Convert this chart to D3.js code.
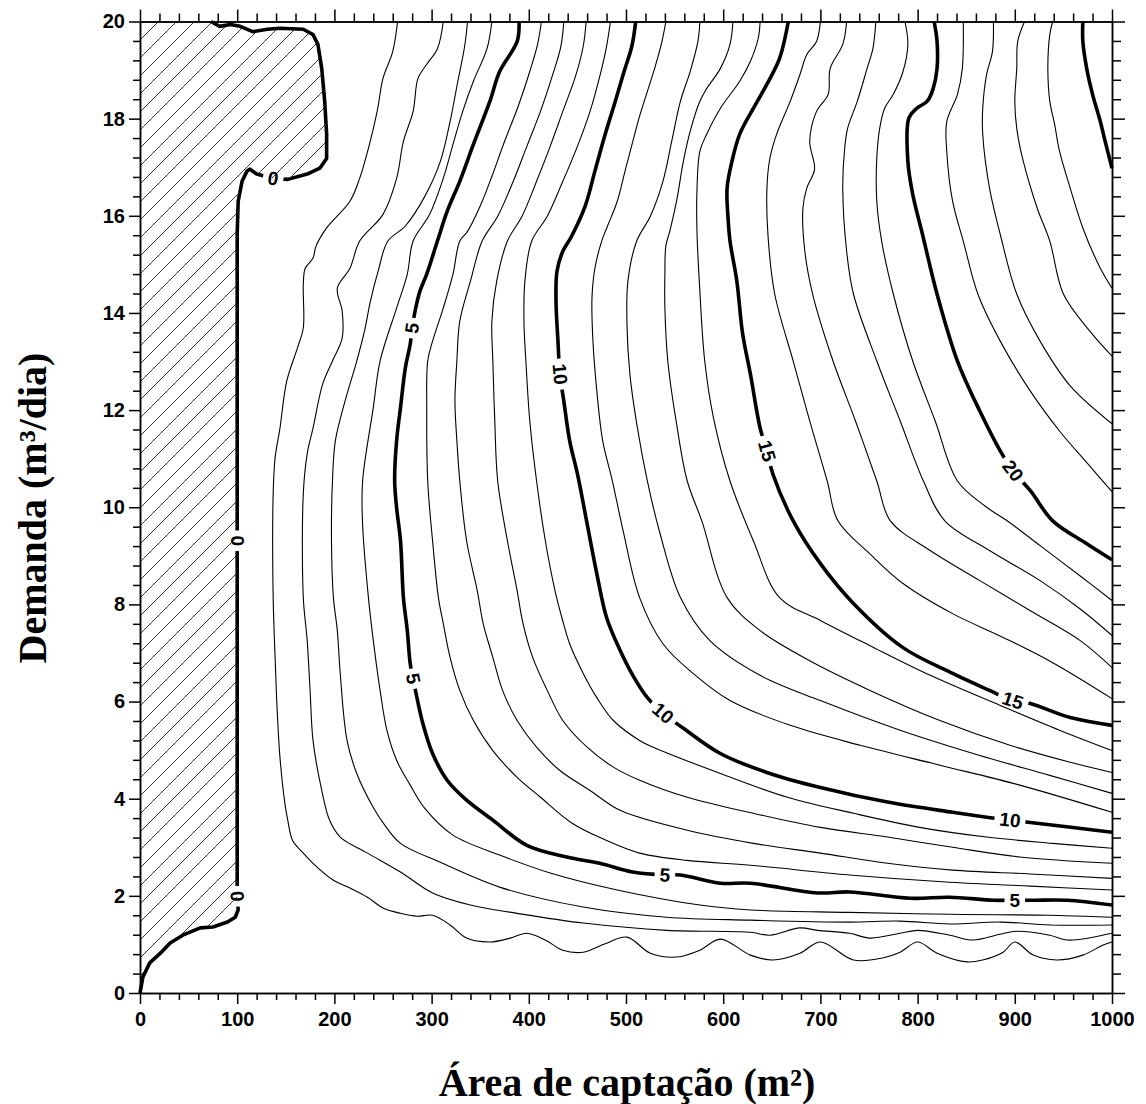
<!DOCTYPE html>
<html><head><meta charset="utf-8">
<script src="https://cdn.jsdelivr.net/npm/d3@7"></script>
<style>body{margin:0;background:#fff}svg{display:block}</style>
</head><body><svg id="chart" width="1146" height="1104"></svg>
<script>
// ---------- data (x = Área de captação m², y = Demanda m³/dia) ----------
const xTickValues = [0,100,200,300,400,500,600,700,800,900,1000];
const yTickValues = [0,2,4,6,8,10,12,14,16,18,20];
const contourLevels = [0,1,2,3,4,5,6,7,8,9,10,11,12,13,14,15,16,17,18,19,20,21,22,23,24,25];

const contour0 = [[73,20],[82,19.90],[93,19.94],[103,19.90],[116,19.79],[131,19.84],[144,19.86],[168,19.84],[178,19.73],[183,19.53],[187,19.03],[190,18.36],[192,17.68],[192,17.18],[185,16.98],[172,16.86],[152,16.75],[137,16.77],[120,16.86],[113,16.96],[110,16.92],[105,16.71],[101,16.30],[100,15.62],[100,9.31],[100,2.28],[100,1.99],[101,1.71],[98,1.56],[90,1.46],[75,1.36],[62,1.34],[44,1.19],[31,1.03],[21,0.82],[10,0.62],[3,0.33],[0,0]];
const contour1 = [[265,20],[260,19.38],[250,18.83],[244,18.15],[235,17.39],[226,16.77],[216,16.30],[192,15.75],[181,15.37],[178,15.13],[170,14.92],[168,14.59],[168,13.69],[162,13.28],[151,12.60],[144,11.63],[139,11.02],[137,10.28],[137,8.14],[139,6.91],[141,5.88],[144,4.85],[149,3.91],[152,3.56],[157,3.14],[168,2.88],[178,2.67],[199,2.32],[216,2.16],[234,1.97],[250,1.75],[268,1.64],[285,1.58],[301,1.60],[319,1.40],[336,1.13],[360,1.05],[381,1.13],[398,1.23],[417,1.09],[435,0.88],[456,0.84],[478,1.01],[501,1.15],[525,0.82],[552,0.74],[576,0.88],[597,1.11],[628,0.78],[651,0.68],[679,0.82],[700,1.05],[734,0.68],[764,0.72],[782,0.84],[800,1.05],[820,0.82],[851,0.64],[867,0.68],[888,0.84],[900,1.05],[919,0.78],[943,0.68],[970,0.78],[991,0.99],[1000,1.05]];
const contour2 = [[312,20],[306,19.44],[295,19.12],[286,18.83],[281,18.15],[271,17.53],[264,16.77],[250,16.03],[226,15.48],[216,14.92],[203,14.51],[208,14.04],[208,13.48],[198,13.01],[188,12.54],[178,11.63],[172,11.10],[168,10.28],[168,8.14],[172,7.26],[175,6.23],[178,5.20],[187,4.17],[195,3.56],[206,3.21],[234,2.88],[268,2.49],[301,2.06],[340,1.81],[388,1.64],[456,1.44],[542,1.29],[628,1.25],[648,1.19],[679,1.34],[697,1.29],[730,1.23],[751,1.13],[782,1.23],[800,1.29],[833,1.19],[857,1.09],[885,1.21],[902,1.27],[936,1.19],[954,1.09],[1000,1.23]];
const contour3 = [[337,20],[334,19.49],[327,18.77],[319,17.94],[309,17.12],[293,16.40],[273,15.79],[255,15.48],[245,14.86],[237,14.24],[231,13.63],[223,13.01],[211,12.19],[201,11.37],[198,10.54],[197,9.31],[199,8.14],[203,7.46],[206,6.58],[213,5.20],[223,4.52],[240,3.82],[252,3.45],[268,3.08],[309,2.69],[370,2.18],[456,1.77],[542,1.56],[628,1.50],[730,1.46],[782,1.48],[833,1.42],[885,1.46],[936,1.40],[1000,1.40]];
const contour4 = [[362,20],[357,19.44],[343,18.77],[332,18.15],[322,17.47],[312,16.77],[298,16.03],[281,15.48],[275,14.80],[264,14.10],[247,13.01],[240,12.05],[229,10.54],[229,9.66],[235,8.14],[240,7.26],[247,6.23],[254,5.41],[264,4.79],[278,4.28],[293,3.80],[322,3.25],[370,2.84],[422,2.47],[491,2.12],[576,1.81],[628,1.71],[730,1.66],[833,1.62],[936,1.60],[1000,1.56]];
const contour5 = [[390,20],[388,19.59],[370,18.97],[360,18.36],[343,17.47],[329,16.71],[316,16.09],[306,15.48],[295,14.80],[288,14.45],[283,14.04],[280,13.69],[278,13.36],[273,12.87],[268,12.05],[264,11.37],[262,10.54],[264,9.99],[268,9.31],[271,8.14],[275,7.46],[278,6.78],[281,6.47],[284,6.17],[291,5.55],[301,4.93],[316,4.38],[336,3.97],[363,3.56],[398,3.04],[439,2.80],[473,2.67],[507,2.49],[540,2.43],[556,2.43],[597,2.26],[628,2.26],[697,2.06],[730,2.08],[792,1.95],[833,1.97],[878,1.91],[900,1.91],[919,1.91],[954,1.91],[1000,1.81]];
const contour6 = [[413,20],[409,19.53],[401,18.97],[389,18.25],[375,17.53],[362,16.81],[350,16.20],[337,15.68],[329,15.48],[322,14.80],[312,14.10],[301,13.42],[296,13.01],[295,12.05],[296,10.54],[301,9.31],[307,8.14],[312,7.61],[319,6.91],[329,6.23],[343,5.61],[363,4.99],[388,4.44],[412,4.03],[445,3.49],[480,3.14],[514,2.88],[563,2.73],[628,2.63],[730,2.43],[833,2.28],[916,2.20],[1000,2.12]];
const contour7 = [[436,20],[433,19.49],[424,18.87],[412,18.15],[398,17.43],[384,16.71],[368,15.99],[352,15.48],[340,14.66],[329,13.83],[326,13.01],[324,12.19],[326,11.37],[329,10.54],[336,9.31],[347,8.28],[353,7.61],[363,6.91],[373,6.23],[388,5.61],[408,5.06],[432,4.58],[463,4.17],[494,3.76],[563,3.35],[631,3.08],[700,2.88],[769,2.67],[836,2.53],[916,2.45],[1000,2.36]];
const contour8 = [[459,20],[456,19.49],[448,18.87],[435,18.15],[422,17.43],[408,16.71],[393,15.99],[378,15.48],[367,14.66],[362,13.83],[363,13.01],[365,11.78],[368,10.54],[378,9.31],[388,8.28],[394,7.61],[404,6.91],[419,6.23],[435,5.61],[460,5.06],[487,4.65],[514,4.38],[563,4.03],[631,3.70],[700,3.41],[769,3.21],[836,3.00],[905,2.80],[1000,2.67]];
const contour9 = [[484,20],[480,19.49],[473,18.87],[463,18.15],[450,17.43],[435,16.71],[419,15.99],[403,15.48],[396,14.66],[395,13.83],[397,13.01],[401,11.78],[408,10.54],[417,9.31],[427,8.28],[434,7.73],[442,7.19],[456,6.58],[470,6.08],[487,5.61],[514,5.20],[528,5.06],[597,4.52],[666,4.03],[734,3.70],[802,3.41],[871,3.21],[939,3.08],[1000,2.98]];
const contour10 = [[510,20],[506,19.49],[498,18.97],[489,18.36],[478,17.64],[468,16.92],[458,16.20],[444,15.58],[435,15.27],[429,14.86],[428,14.24],[430,13.42],[432,12.74],[436,12.19],[442,11.37],[450,10.69],[460,9.66],[470,8.63],[480,7.73],[494,7.05],[507,6.54],[522,6.08],[538,5.76],[559,5.45],[597,4.93],[648,4.52],[700,4.23],[769,3.93],[836,3.72],[871,3.62],[895,3.56],[916,3.51],[1000,3.31]];
const contour11 = [[541,20],[537,19.59],[530,19.07],[522,18.56],[514,18.05],[507,17.53],[499,16.92],[491,16.30],[481,15.79],[475,15.48],[468,14.92],[465,14.31],[466,13.42],[470,12.39],[476,11.37],[486,10.54],[497,9.52],[514,8.14],[538,7.19],[569,6.58],[607,6.02],[669,5.51],[741,5.10],[823,4.69],[905,4.28],[1000,3.72]];
const contour12 = [[576,20],[574,19.59],[566,18.97],[556,18.36],[547,17.53],[538,16.71],[525,15.99],[511,15.48],[502,14.66],[501,13.77],[504,12.74],[511,11.72],[522,10.54],[535,9.46],[556,8.14],[586,7.26],[638,6.54],[700,6.02],[782,5.41],[864,4.89],[936,4.48],[1000,4.11]];
const contour13 = [[610,20],[607,19.53],[597,19.03],[583,18.62],[576,18.36],[566,17.74],[559,17.12],[552,16.30],[545,15.68],[541,15.38],[540,14.80],[540,14.10],[543,13.01],[552,11.72],[563,10.54],[578,9.72],[604,8.14],[638,7.46],[689,6.84],[751,6.23],[823,5.61],[895,5.10],[957,4.75],[1000,4.54]];
const contour14 = [[638,20],[636,19.65],[628,19.18],[617,18.77],[597,18.21],[583,17.68],[576,17.33],[573,16.51],[573,15.68],[576,14.45],[581,13.01],[590,11.84],[607,10.54],[631,9.31],[658,8.14],[700,7.67],[751,7.15],[813,6.54],[885,5.92],[946,5.41],[1000,4.99]];
const contour15 = [[667,20],[658,19.24],[645,18.71],[631,18.21],[617,17.68],[609,17.12],[604,16.57],[605,15.95],[607,15.48],[614,14.66],[620,13.57],[628,12.74],[638,11.63],[645,11.16],[651,10.69],[672,9.72],[700,8.84],[734,8.02],[785,7.11],[836,6.58],[874,6.23],[898,6.02],[916,5.96],[957,5.67],[1000,5.51]];
const contour16 = [[700,20],[696,19.59],[686,19.32],[679,18.91],[669,18.36],[655,17.68],[648,17.18],[645,16.57],[646,15.62],[653,14.39],[672,13.01],[689,11.78],[707,10.54],[718,9.72],[751,9.04],[785,8.43],[836,7.81],[888,7.32],[939,6.80],[1000,6.06]];
const contour17 = [[727,20],[723,19.53],[710,19.03],[708,18.50],[696,18.15],[689,17.53],[694,16.96],[686,16.57],[682,16.16],[684,15.27],[692,14.39],[713,13.01],[736,11.78],[758,10.54],[772,9.72],[813,9.11],[864,8.49],[916,7.87],[967,7.26],[1000,6.70]];
const contour18 = [[757,20],[754,19.44],[748,19.03],[738,18.36],[728,17.80],[725,17.39],[723,16.57],[727,15.27],[734,14.39],[758,13.01],[782,11.78],[806,10.54],[828,9.72],[874,9.11],[926,8.49],[967,7.91],[1000,7.36]];
const contour19 = [[787,20],[790,19.53],[785,18.97],[775,18.50],[766,18.21],[761,17.80],[758,17.18],[758,16.30],[763,15.48],[775,14.39],[795,13.01],[818,11.78],[841,10.54],[869,10.03],[895,9.68],[926,9.21],[967,8.59],[1000,8.08]];
const contour20 = [[817,20],[820,19.59],[820,19.03],[816,18.62],[810,18.36],[799,18.21],[791,18.01],[790,17.12],[795,16.44],[805,15.62],[820,14.39],[841,13.01],[864,11.98],[885,11.16],[898,10.75],[916,10.34],[939,9.72],[974,9.25],[1000,8.92]];
const contour21 = [[847,20],[846,19.03],[841,18.50],[830,17.94],[830,17.33],[836,16.30],[847,15.48],[862,14.39],[885,13.42],[916,12.39],[946,11.57],[977,10.85],[1000,10.32]];
const contour22 = [[878,20],[877,19.38],[871,18.91],[867,18.21],[867,17.68],[874,16.57],[885,15.62],[902,14.39],[926,13.42],[957,12.50],[1000,11.72]];
const contour23 = [[910,20],[903,19.59],[902,19.03],[900,18.36],[902,17.80],[908,17.18],[923,16.16],[936,15.48],[950,14.39],[977,13.63],[1000,13.11]];
const contour24 = [[939,20],[936,19.73],[934,19.03],[936,18.36],[941,17.88],[946,17.33],[957,16.57],[970,15.75],[988,14.92],[1000,14.51]];
const contour25 = [[970,20],[970,19.59],[974,19.03],[980,18.50],[988,17.94],[993,17.53],[1000,16.98]];

// contour labels: [level, x, y]
const contourLabels = [[0,137,16.77],[0,100,9.31],[0,100,1.99],[5,280,13.69],[5,281,6.47],[5,540,2.43],[5,900,1.91],[10,432,12.74],[10,538,5.76],[10,895,3.56],[15,645,11.16],[15,898,6.02],[20,898,10.75]];

const contourLines = [contour0,contour1,contour2,contour3,contour4,contour5,contour6,contour7,contour8,contour9,contour10,contour11,contour12,contour13,contour14,contour15,contour16,contour17,contour18,contour19,contour20,contour21,contour22,contour23,contour24,contour25];
const contours = contourLevels.map((lv,i)=>({level:lv, pts:contourLines[i]}));

// ---------- drawing ----------
const W=1146,H=1104;
const svg=d3.select('#chart');
const x=d3.scaleLinear().domain([0,1000]).range([140,1112]);
const y=d3.scaleLinear().domain([0,20]).range([993,21.5]);

const defs=svg.append('defs');
const pat=defs.append('pattern').attr('id','hatch').attr('patternUnits','userSpaceOnUse')
  .attr('width',18).attr('height',18);
pat.append('path').attr('d','M-3,3 L3,-3 M0,18 L18,0 M15,21 L21,15')
  .attr('stroke','#222').attr('stroke-width',0.9).attr('fill','none');

const smooth=d3.line().x(d=>x(d[0])).y(d=>y(d[1])).curve(d3.curveCatmullRom.alpha(0.5));
const lin=d3.line().x(d=>x(d[0])).y(d=>y(d[1]));

// hatched (blanked) region left of the 0 contour
svg.append('path').attr('d',lin([[0,0],[0,20]].concat(contour0))+'Z')
  .attr('fill','url(#hatch)').attr('stroke','none');

// labels: geometry first
const labelFont="bold 19px 'Liberation Sans', Arial, sans-serif";
const labG=svg.append('g');
const labInfo=contourLabels.map(l=>{
  const c=contours.find(c=>c.level===l[0]);
  const pts=c.pts.map(p=>[x(p[0]),y(p[1])]);
  const px=x(l[1]),py=y(l[2]);
  let best=0,bd=Infinity;
  pts.forEach((p,i)=>{const d=(p[0]-px)**2+(p[1]-py)**2;if(d<bd){bd=d;best=i;}});
  const a=pts[Math.max(0,best-1)],b=pts[Math.min(pts.length-1,best+1)];
  let ang=Math.atan2(b[1]-a[1],b[0]-a[0])*180/Math.PI;
  if(ang>90)ang-=180; if(ang<=-90)ang+=180;
  return {level:l[0],px,py,ang};
});
const texts=labG.selectAll('text').data(labInfo).join('text')
  .attr('transform',d=>`translate(${d.px},${d.py}) rotate(${d.ang})`)
  .attr('text-anchor','middle').attr('dominant-baseline','central')
  .style('font',labelFont).attr('fill','#000').text(d=>d.level);
texts.each(function(d){d.w=this.getComputedTextLength();});

// masks to cut gaps in labelled lines
const labelledLevels=[...new Set(labInfo.map(d=>d.level))];
labelledLevels.forEach(lv=>{
  const m=defs.append('mask').attr('id','m'+lv).attr('maskUnits','userSpaceOnUse')
    .attr('x',0).attr('y',0).attr('width',W).attr('height',H);
  m.append('rect').attr('x',0).attr('y',0).attr('width',W).attr('height',H).attr('fill','#fff');
  labInfo.filter(d=>d.level===lv).forEach(d=>{
    const w=d.w+10,h=18;
    m.append('rect').attr('x',-w/2).attr('y',-h/2).attr('width',w).attr('height',h)
      .attr('transform',`translate(${d.px},${d.py}) rotate(${d.ang})`).attr('fill','#000');
  });
});

const linesG=svg.insert('g','g');
contours.forEach(c=>{
  const thick=c.level%5===0;
  const p=linesG.append('path')
    .attr('d', c.level===0 ? lin(c.pts) : smooth(c.pts))
    .attr('fill','none').attr('stroke','#000')
    .attr('stroke-width',thick?3.6:1.1)
    .attr('stroke-linejoin','round').attr('stroke-linecap','butt');
  if(labelledLevels.includes(c.level)) p.attr('mask',`url(#m${c.level})`);
});

// ---------- axes ----------
const xMinor=d3.range(0,1001,20).filter(v=>v%100!==0);
const yMinor=d3.range(0,20.001,0.4).map(v=>+v.toFixed(1)).filter(v=>Math.abs(v/2-Math.round(v/2))>1e-6);
const tickFont="bold 20px 'Liberation Sans', Arial, sans-serif";
function styleAxis(g){
  g.selectAll('path,line').attr('stroke','#000').attr('stroke-width',1.5);
  g.selectAll('text').style('font',tickFont).attr('fill','#000');
}
// bottom
svg.append('g').attr('transform',`translate(0,${y(0)})`)
  .call(d3.axisBottom(x).tickValues(xTickValues).tickSize(11).tickSizeOuter(0).tickPadding(8).tickFormat(d3.format('d'))).call(styleAxis);
svg.append('g').attr('transform',`translate(0,${y(0)})`)
  .call(d3.axisBottom(x).tickValues(xMinor).tickSize(7).tickSizeOuter(0).tickFormat('')).call(styleAxis);
// top
svg.append('g').attr('transform',`translate(0,${y(20)})`)
  .call(d3.axisTop(x).tickValues(xTickValues).tickSize(12).tickSizeOuter(0).tickFormat('')).call(styleAxis);
svg.append('g').attr('transform',`translate(0,${y(20)})`)
  .call(d3.axisTop(x).tickValues(xMinor).tickSize(8).tickSizeOuter(0).tickFormat('')).call(styleAxis);
// left
svg.append('g').attr('transform',`translate(${x(0)},0)`)
  .call(d3.axisLeft(y).tickValues(yTickValues).tickSize(11).tickSizeOuter(0).tickPadding(4).tickFormat(d3.format('d'))).call(styleAxis);
svg.append('g').attr('transform',`translate(${x(0)},0)`)
  .call(d3.axisLeft(y).tickValues(yMinor).tickSize(7).tickSizeOuter(0).tickFormat('')).call(styleAxis);
// right
svg.append('g').attr('transform',`translate(${x(1000)},0)`)
  .call(d3.axisRight(y).tickValues(yTickValues).tickSize(13).tickSizeOuter(0).tickFormat('')).call(styleAxis);
svg.append('g').attr('transform',`translate(${x(1000)},0)`)
  .call(d3.axisRight(y).tickValues(yMinor).tickSize(9).tickSizeOuter(0).tickFormat('')).call(styleAxis);

// titles
const titleFont="bold 40px 'Liberation Serif', 'Times New Roman', serif";
svg.append('text').attr('x',627).attr('y',1096).attr('text-anchor','middle')
  .style('font',titleFont).attr('fill','#000').text('Área de captação (m²)');
svg.append('text').attr('transform','translate(46,508) rotate(-90)').attr('text-anchor','middle')
  .style('font',titleFont).attr('fill','#000').text('Demanda (m³/dia)');
</script></body></html>
